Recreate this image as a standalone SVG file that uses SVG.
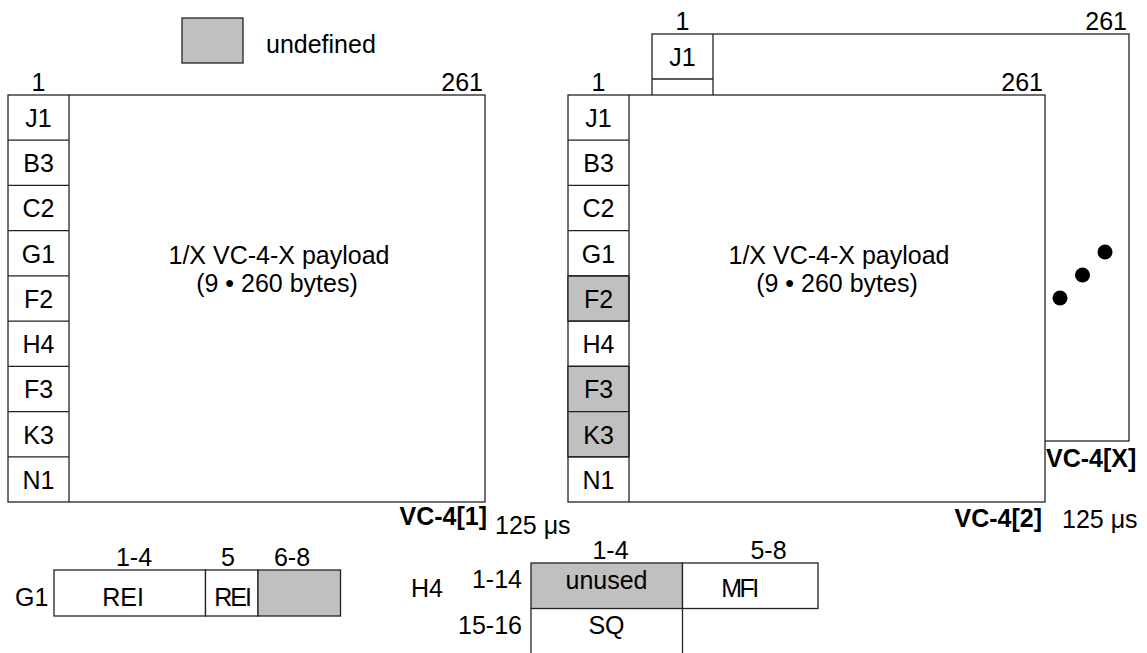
<svg xmlns="http://www.w3.org/2000/svg" width="1147" height="653" viewBox="0 0 1147 653">
<style>
text{font-family:"Liberation Sans",Arial,sans-serif;font-size:25px;fill:#000}
.b{font-weight:bold}
.m{text-anchor:middle}
.e{text-anchor:end}
.ln{stroke:#222;stroke-width:1.3;fill:none}
.bx{stroke:#222;stroke-width:1.3;fill:#fff}
.g{stroke:#222;stroke-width:1.3;fill:#c0c0c0}
</style>
<g id="legend">
<rect class="g" x="182" y="18" width="61" height="45"/>
<text x="266" y="53">undefined</text>
</g>
<g id="vc4x">
<rect class="bx" x="652" y="34" width="477" height="407"/>
<line class="ln" x1="713" y1="34" x2="713" y2="95"/>
<line class="ln" x1="652" y1="79" x2="713" y2="79"/>
<text class="m" x="682.5" y="66">J1</text>
<text class="m" x="682.5" y="30">1</text>
<text class="e" x="1127" y="30">261</text>
<circle cx="1105" cy="252" r="7.5"/>
<circle cx="1082.5" cy="275" r="7.5"/>
<circle cx="1060" cy="298" r="7.5"/>
<text class="b" x="1046" y="467">VC-4[X]</text>
</g>
<g id="vc4-1">
<rect class="bx" x="8" y="95" width="477" height="407"/>
<line class="ln" x1="69" y1="95" x2="69" y2="502"/>
<g class="ln">
<line x1="8" y1="140.2" x2="69" y2="140.2"/>
<line x1="8" y1="185.4" x2="69" y2="185.4"/>
<line x1="8" y1="230.7" x2="69" y2="230.7"/>
<line x1="8" y1="275.9" x2="69" y2="275.9"/>
<line x1="8" y1="321.1" x2="69" y2="321.1"/>
<line x1="8" y1="366.3" x2="69" y2="366.3"/>
<line x1="8" y1="411.6" x2="69" y2="411.6"/>
<line x1="8" y1="456.8" x2="69" y2="456.8"/>
</g>
<text class="m" x="38.5" y="127">J1</text>
<text class="m" x="38.5" y="172">B3</text>
<text class="m" x="38.5" y="217">C2</text>
<text class="m" x="38.5" y="263">G1</text>
<text class="m" x="38.5" y="308">F2</text>
<text class="m" x="38.5" y="353">H4</text>
<text class="m" x="38.5" y="398">F3</text>
<text class="m" x="38.5" y="444">K3</text>
<text class="m" x="38.5" y="489">N1</text>
<text class="m" x="38.5" y="91">1</text>
<text class="e" x="483" y="91">261</text>
<text class="m" x="279" y="264">1/X VC-4-X payload</text>
<text class="m" x="277" y="292">(9 • 260 bytes)</text>
<text class="b e" x="487" y="525">VC-4[1]</text>
<text x="495" y="534">125 μs</text>
</g>
<g id="vc4-2">
<rect class="bx" x="568" y="95" width="477" height="407"/>
<rect class="g" x="568" y="275.9" width="61" height="45.2"/>
<rect class="g" x="568" y="366.3" width="61" height="90.5"/>
<line class="ln" x1="629" y1="95" x2="629" y2="502"/>
<g class="ln">
<line x1="568" y1="140.2" x2="629" y2="140.2"/>
<line x1="568" y1="185.4" x2="629" y2="185.4"/>
<line x1="568" y1="230.7" x2="629" y2="230.7"/>
<line x1="568" y1="275.9" x2="629" y2="275.9"/>
<line x1="568" y1="321.1" x2="629" y2="321.1"/>
<line x1="568" y1="366.3" x2="629" y2="366.3"/>
<line x1="568" y1="411.6" x2="629" y2="411.6"/>
<line x1="568" y1="456.8" x2="629" y2="456.8"/>
</g>
<text class="m" x="598.5" y="127">J1</text>
<text class="m" x="598.5" y="172">B3</text>
<text class="m" x="598.5" y="217">C2</text>
<text class="m" x="598.5" y="263">G1</text>
<text class="m" x="598.5" y="308">F2</text>
<text class="m" x="598.5" y="353">H4</text>
<text class="m" x="598.5" y="398">F3</text>
<text class="m" x="598.5" y="444">K3</text>
<text class="m" x="598.5" y="489">N1</text>
<text class="m" x="598.5" y="91">1</text>
<text class="e" x="1043" y="91">261</text>
<text class="m" x="839" y="264">1/X VC-4-X payload</text>
<text class="m" x="837" y="292">(9 • 260 bytes)</text>
<text class="b e" x="1042" y="527">VC-4[2]</text>
<text x="1062" y="528">125 μs</text>
</g>
<g id="g1-table">
<rect class="bx" x="54" y="570" width="151.5" height="46"/>
<rect class="bx" x="205.5" y="570" width="52.5" height="46"/>
<rect class="g" x="258" y="570" width="82.5" height="46"/>
<text x="15" y="606">G1</text>
<text class="m" x="123" y="606">REI</text>
<text class="m" x="232" y="606" letter-spacing="-2">REI</text>
<text class="m" x="134" y="566">1-4</text>
<text class="m" x="228" y="566">5</text>
<text class="m" x="292" y="566">6-8</text>
</g>
<g id="h4-table">
<rect class="g" x="531" y="563" width="151.5" height="45.5"/>
<rect class="bx" x="682.5" y="563" width="135.5" height="45.5"/>
<line class="ln" x1="531" y1="608.5" x2="531" y2="653"/>
<line class="ln" x1="682.5" y1="608.5" x2="682.5" y2="653"/>
<text x="411" y="597">H4</text>
<text class="e" x="522" y="588">1-14</text>
<text class="e" x="522" y="634">15-16</text>
<text class="m" x="606.5" y="589">unused</text>
<text class="m" x="739" y="597" letter-spacing="-2.5">MFI</text>
<text class="m" x="606.5" y="634">SQ</text>
<text class="m" x="610.5" y="559">1-4</text>
<text class="m" x="768.5" y="559">5-8</text>
</g>
</svg>
